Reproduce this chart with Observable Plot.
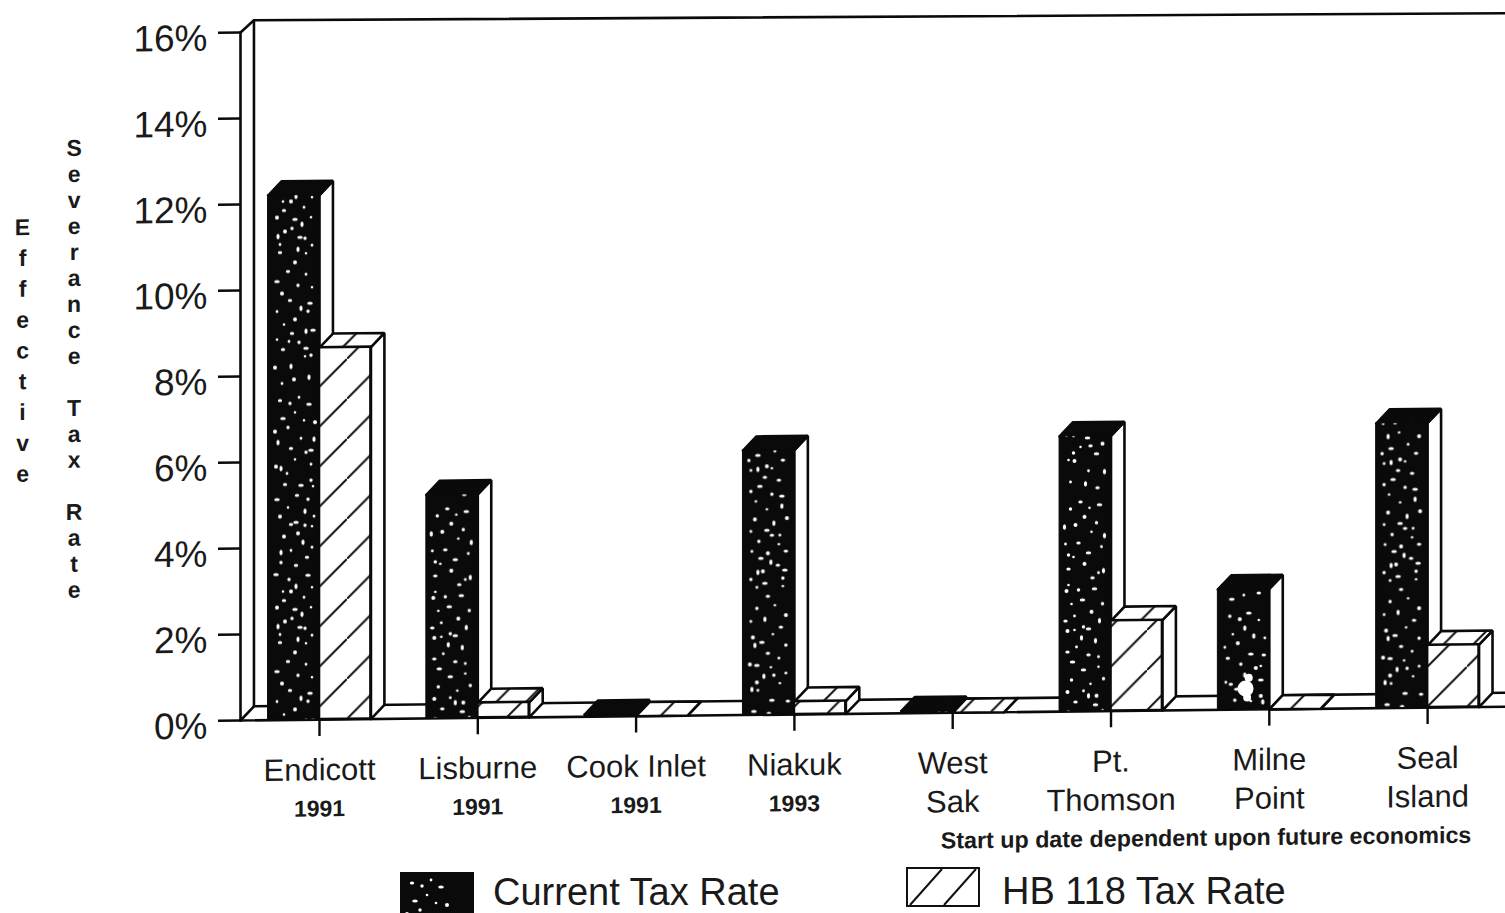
<!DOCTYPE html>
<html>
<head>
<meta charset="utf-8">
<script src="https://cdn.jsdelivr.net/npm/d3@7"></script>
<script src="https://cdn.jsdelivr.net/npm/@observablehq/plot@0.6"></script>
<style>
  html, body { margin: 0; padding: 0; background: #fff; overflow: hidden; }
  #page { position: relative; width: 1505px; height: 913px; font-family: "Liberation Sans", Arial, sans-serif; }
  #legend { position: relative; width: 1505px; height: 53px; color: #1a1a1a; }
  #legend svg, #legend span { position: absolute; }
  #legend span { font-size: 38px; line-height: 34px; white-space: nowrap; }
</style>
</head>
<body>
<div id="page"></div>
<script>
// Severance tax rates by North Slope field
const fields = ["Endicott", "Lisburne", "Cook Inlet", "Niakuk", "West", "Pt.", "Milne", "Seal"];
const startYears = ["1991", "1991", "1991", "1993", null, null, null, null];
const nameEndings = [null, null, null, null, "Sak", "Thomson", "Point", "Island"];
const currentRate = [12.2, 5.2, 0.05, 6.15, 0.05, 6.4, 2.8, 6.62];
const hb118Rate = [8.65, 0.35, 0, 0.3, 0, 2.1, 0, 1.45];
const yTicks = [0, 2, 4, 6, 8, 10, 12, 14, 16];
const xTicks = fields.map((_, i) => i);
const seriesNames = ["Current Tax Rate", "HB 118 Tax Rate"];
const footnote = "Start up date dependent upon future economics";
const yTitleOuter = "Effective";
const yTitleInner = "Severance Tax Rate";

// Extruded box proportions, in x-scale and y-scale units
const barWidth = 0.325;
const depthX = 0.085;
const depthY = 0.326;

const leftEdge = -0.499;
const rightEdge = 7.492;
const tickLength = 0.139;
const wallTop = [16.28, 16.13];
const ink = "#0a0a0a";
const lineWeight = 2.6;

// White flecks of the stippled fill, offset within one bar width
const flecks = [
  [15,29],[20,38],[27,23],[47,33],[10,53],[33,49],[23,59],[43,61],[38,63],[27,70],[8,77],[13,79],[43,75],
  [17,95],[33,96],[43,91],[45,97],[12,127],[37,122],[46,127],[23,135],[28,133],[37,136],[44,137],[30,144],
  [13,163],[23,161],[39,168],[8,185],[13,173],[15,202],[23,202],[28,197],[36,208],[16,211],[27,220],[24,229],
  [43,218],[17,232],[10,237],[12,245],[12,253],[32,238],[37,239],[38,254],[27,263],[30,250],[38,275],[22,301],
  [42,304],[40,312],[16,325],[27,320],[38,332],[21,342],[15,350],[38,349],[43,356],[37,357],[7,368],[23,367],
  [31,8],[12,11],[41,15],[22,14],[36,31],[7,42],[46,50],[19,84],[29,106],[9,110],[40,110],[20,118],[16,147],
  [35,153],[44,158],[28,176],[40,186],[21,190],[44,198],[9,218],[34,225],[44,246],[20,272],[9,282],[30,286],
  [44,288],[14,294],[33,309],[9,312],[24,334],[45,331],[31,343],[9,340],[26,380],[41,378],[14,384]
];
const fleckSizes = [[2.8, 1.5], [1.7, 1.7], [1.3, 1.3], [2, 2], [1.6, 2.8], [1.4, 1.4], [2.2, 1.6]];

function patterns() {
  const defs = d3.create("svg:defs");
  const period = 158.3, tall = 390;
  const speck = defs.append("pattern").attr("id", "speck").attr("patternUnits", "userSpaceOnUse")
    .attr("width", period * 4).attr("height", tall).attr("patternTransform", "translate(268 0)");
  speck.append("rect").attr("width", period * 4).attr("height", tall).attr("fill", ink);
  // Four columns so that neighbouring bars do not share the same fleck layout
  for (let k = 0; k < 4; ++k) {
    flecks.forEach(([x, y], i) => {
      const [rx, ry] = fleckSizes[(i + k) % fleckSizes.length];
      speck.append("ellipse")
        .attr("cx", k * period + (k % 2 ? 52 - x : x))
        .attr("cy", (y + k * 113) % tall)
        .attr("rx", rx).attr("ry", ry).attr("fill", "#fff");
    });
  }
  const hatch = (id, size, shift) => {
    const p = defs.append("pattern").attr("id", id).attr("patternUnits", "userSpaceOnUse")
      .attr("width", size).attr("height", size).attr("patternTransform", `translate(${shift} 0)`);
    p.append("rect").attr("width", size).attr("height", size).attr("fill", "#fff");
    p.append("path").attr("d", `M-2,${size + 2}L${size + 2},-2`).attr("stroke", "#111").attr("stroke-width", 2);
  };
  hatch("hatch", 40, 27);
  hatch("hatchFine", 30, 0);
  return defs.node();
}

// Closed polygons for the side and top faces of each extruded bar
function faces(name, values, x0) {
  const tops = [], sides = [];
  values.forEach((v, i) => {
    const l = i + x0, r = l + barWidth;
    [[l, v], [l + depthX, v + depthY], [r + depthX, v + depthY], [r, v], [l, v]]
      .forEach(([x, y]) => tops.push({id: `${name}-top-${i}`, x, y}));
    [[r, 0], [r + depthX, depthY], [r + depthX, v + depthY], [r, v], [r, 0]]
      .forEach(([x, y]) => sides.push({id: `${name}-side-${i}`, x, y}));
  });
  return {tops, sides};
}

const current = faces("current", currentRate, -barWidth);
const hb118 = faces("hb118", hb118Rate, 0);
const fronts = (values, x0) => values.map((v, i) => ({x1: i + x0, x2: i + x0 + barWidth, y1: 0, y2: v}));
const polygon = (rows, fill) =>
  Plot.line(rows, {x: "x", y: "y", z: "id", fill, stroke: ink, strokeWidth: lineWeight, strokeLinejoin: "miter"});

// Wall and floor outline of the 3-D frame
const frame = [
  {id: "front", x: leftEdge, y: 0}, {id: "front", x: leftEdge, y: 16},
  {id: "back", x: leftEdge, y: 16}, {id: "back", x: leftEdge + depthX, y: wallTop[0]},
  {id: "back", x: rightEdge, y: wallTop[1]},
  {id: "inner", x: leftEdge + depthX, y: wallTop[0]}, {id: "inner", x: leftEdge + depthX, y: depthY},
  {id: "floor", x: leftEdge, y: 0}, {id: "floor", x: leftEdge + depthX, y: depthY}, {id: "floor", x: rightEdge, y: depthY}
];
const base = [{x: leftEdge, y: 0}, {x: rightEdge, y: 0}];

// Pale flaw in the stippling of the Milne Point bar
const flaw = [{x: 5.87, y: 0.74, r: 4}, {x: 5.85, y: 0.49, r: 8}, {x: 5.86, y: 0.28, r: 4}];

const stacked = s => s.split("").map(c => c === " " ? "\u00a0" : c).join("\n");
const present = labels => labels.map((text, i) => ({text, i})).filter(d => d.text);

const chart = Plot.plot({
  width: 1505,
  height: 860,
  marginLeft: 240,
  marginRight: 0,
  marginTop: 0,
  marginBottom: 0,
  x: {domain: [leftEdge, rightEdge], axis: null},
  y: {domain: [-3.256, 16.744], range: [860, 0], axis: null},
  style: {
    fontFamily: "'Liberation Sans', Arial, sans-serif",
    background: "none",
    overflow: "visible",
    transform: "skewY(-0.62deg)",
    transformOrigin: "240px 720px"
  },
  marks: [
    patterns,
    Plot.line(frame, {x: "x", y: "y", z: "id", stroke: ink, strokeWidth: lineWeight}),
    Plot.line(base, {x: "x", y: "y", stroke: ink, strokeWidth: lineWeight}),
    Plot.ruleX(xTicks, {x: d => d, y1: 0, y2: -0.39, stroke: ink, strokeWidth: 2.4}),
    polygon(current.sides, "#fff"),
    polygon(current.tops, ink),
    polygon(hb118.sides, "#fff"),
    polygon(hb118.tops, "url(#hatchFine)"),
    Plot.rect(fronts(hb118Rate, 0), {x1: "x1", x2: "x2", y1: "y1", y2: "y2", fill: "url(#hatch)", stroke: ink, strokeWidth: lineWeight}),
    Plot.rect(fronts(currentRate, -barWidth), {x1: "x1", x2: "x2", y1: "y1", y2: "y2", fill: "url(#speck)", stroke: ink, strokeWidth: 1}),
    ...flaw.map(({x, y, r}) => Plot.dot([{x, y}], {x: "x", y: "y", r, fill: "#fff", stroke: null})),
    Plot.ruleY(yTicks, {y: d => d, x1: leftEdge - tickLength, x2: leftEdge, stroke: ink, strokeWidth: 2.4}),
    Plot.text(yTicks, {x: leftEdge, y: d => d, dx: -33, dy: 6, textAnchor: "end", text: d => `${d}%`, fontSize: 37, fill: "#1a1a1a"}),
    Plot.text(fields, {x: (_, i) => i, y: -1.18, text: d => d, fontSize: 31, fill: "#1a1a1a"}),
    Plot.text(present(nameEndings), {x: "i", y: -2.08, text: "text", fontSize: 31, fill: "#1a1a1a"}),
    Plot.text(present(startYears), {x: "i", y: -2.08, text: "text", fontSize: 23, fontWeight: "bold", fill: "#1a1a1a"}),
    Plot.text([footnote], {x: 5.6, y: -2.98, text: d => d, fontSize: 23.3, fontWeight: "bold", fill: "#1a1a1a"}),
    Plot.text([stacked(yTitleOuter)], {x: -1.876, y: 11.85, text: d => d, fontSize: 23, fontWeight: "bold", lineHeight: 1.34, lineAnchor: "top", fill: "#1a1a1a"}),
    Plot.text([stacked(yTitleInner)], {x: -1.55, y: 13.6, text: d => d, fontSize: 23, fontWeight: "bold", lineHeight: 1.13, lineAnchor: "top", fill: "#1a1a1a"})
  ]
});

const page = document.getElementById("page");
chart.style.display = "block";
page.appendChild(chart);

// Legend row under the plot
const legend = document.createElement("div");
legend.id = "legend";
legend.innerHTML = `
  <svg style="left:400px;top:12px" width="74" height="41" viewBox="268 0 74 41"><rect x="268" width="74" height="41" fill="url(#speck)"/></svg>
  <span style="left:493px;top:15px">${seriesNames[0]}</span>
  <svg style="left:906px;top:7px" width="74" height="40"><rect x="1" y="1" width="72" height="38" fill="#fff" stroke="#111" stroke-width="2"/><path d="M4,38L36,2M38,38L70,2" stroke="#111" stroke-width="2"/></svg>
  <span style="left:1002px;top:14px">${seriesNames[1]}</span>`;
page.appendChild(legend);
</script>
</body>
</html>
